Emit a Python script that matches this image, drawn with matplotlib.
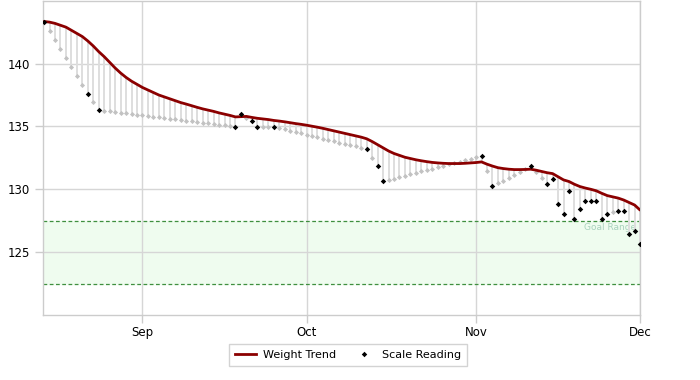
import matplotlib
matplotlib.use("Agg")
import matplotlib.pyplot as plt
import matplotlib.dates as mdates
from matplotlib.lines import Line2D
import numpy as np
import pandas as pd

# one value per day, Aug 14 -> Dec 1
start_date = "2023-08-14"

weight = [
    143.33, 142.62, 141.89, 141.18, 140.45, 139.74, 139.03, 138.32, 137.58, 136.93,
    136.30, 136.25, 136.20, 136.14, 136.09, 136.04, 135.98, 135.93, 135.88, 135.82,
    135.77, 135.72, 135.67, 135.61, 135.56, 135.50, 135.45, 135.40, 135.35, 135.30,
    135.24, 135.19, 135.14, 135.08, 135.03, 134.98, 136.00, 135.70, 135.41, 134.98,
    134.98, 134.98, 134.98, 134.88, 134.77, 134.67, 134.56, 134.46, 134.35, 134.25,
    134.14, 134.04, 133.93, 133.83, 133.72, 133.62, 133.51, 133.41, 133.30, 133.20,
    132.52, 131.82, 130.64, 130.75, 130.86, 130.98, 131.09, 131.20, 131.31, 131.42,
    131.53, 131.64, 131.76, 131.87, 131.98, 132.09, 132.20, 132.31, 132.42, 132.54,
    132.65, 131.44, 130.24, 130.47, 130.70, 130.92, 131.15, 131.37, 131.59, 131.82,
    131.36, 130.90, 130.45, 130.84, 128.86, 128.06, 129.84, 127.64, 128.45, 129.06,
    129.06, 129.06, 127.66, 128.06, 128.17, 128.27, 128.27, 126.48, 126.69, 125.67,
]

# 1 = real scale reading, 0 = filled-in day
measured = [
    1, 0, 0, 0, 0, 0, 0, 0, 1, 0,
    1, 0, 0, 0, 0, 0, 0, 0, 0, 0,
    0, 0, 0, 0, 0, 0, 0, 0, 0, 0,
    0, 0, 0, 0, 0, 1, 1, 0, 1, 1,
    0, 0, 1, 0, 0, 0, 0, 0, 0, 0,
    0, 0, 0, 0, 0, 0, 0, 0, 0, 1,
    0, 1, 1, 0, 0, 0, 0, 0, 0, 0,
    0, 0, 0, 0, 0, 0, 0, 0, 0, 0,
    1, 0, 1, 0, 0, 0, 0, 0, 0, 1,
    0, 0, 1, 1, 1, 1, 1, 1, 1, 1,
    1, 1, 1, 1, 0, 1, 1, 1, 1, 1,
]

trend = [
    143.35, 143.30, 143.20, 143.05, 142.90, 142.65, 142.40, 142.15, 141.80, 141.40,
    140.95, 140.55, 140.10, 139.65, 139.25, 138.90, 138.60, 138.35, 138.10, 137.90,
    137.70, 137.50, 137.35, 137.20, 137.05, 136.90, 136.78, 136.65, 136.52, 136.40,
    136.30, 136.20, 136.08, 135.98, 135.88, 135.76, 135.78, 135.80, 135.72, 135.65,
    135.60, 135.55, 135.48, 135.43, 135.37, 135.30, 135.23, 135.17, 135.10, 135.02,
    134.94, 134.85, 134.75, 134.65, 134.55, 134.45, 134.35, 134.25, 134.15, 134.02,
    133.80, 133.55, 133.30, 133.05, 132.85, 132.70, 132.55, 132.45, 132.35, 132.27,
    132.20, 132.14, 132.10, 132.07, 132.05, 132.05, 132.05, 132.07, 132.10, 132.13,
    132.18, 132.00, 131.85, 131.72, 131.65, 131.60, 131.57, 131.57, 131.58, 131.60,
    131.52, 131.42, 131.32, 131.25, 131.00, 130.75, 130.62, 130.40, 130.22, 130.10,
    130.00, 129.88, 129.68, 129.50, 129.40, 129.30, 129.15, 128.95, 128.75, 128.35,
]

goal_low = 122.5
goal_high = 127.5
y_ticks = [125, 130, 135, 140]


def main():
    dates = pd.date_range(start_date, periods=len(weight), freq="D")
    w = np.array(weight)
    t = np.array(trend)
    real = np.array(measured, dtype=bool)

    fig = plt.figure(figsize=(7, 3.8), dpi=100)
    ax = fig.add_axes([0.0614, 0.171, 0.853, 0.827])

    grid_col = "#d6d6d6"

    # goal band
    ax.axhspan(goal_low, goal_high, color="#effcef", zorder=0)
    for g in (goal_low, goal_high):
        ax.axhline(g, color="#3f8f3f", lw=0.9, ls=(0, (3, 2)), zorder=1)
    ax.text(dates[-1] - pd.Timedelta(days=0.7), goal_high - 0.5, "Goal Range",
            color="#a9d2bd", fontsize=6.5, ha="right", va="center", zorder=2)

    # stems from trend to each day's value
    ax.vlines(dates, t, w, color="#dedede", lw=1.4, zorder=2)
    ax.plot(dates[~real], w[~real], "D", color="#c2c2c2", ms=2.6, mew=0, zorder=3)
    ax.plot(dates, t, color="#8b0000", lw=2, zorder=4, solid_capstyle="round")
    ax.plot(dates[real], w[real], "D", color="black", ms=2.8, mew=0, zorder=5)

    ax.set_xlim(dates[0] - pd.Timedelta(days=0.2), dates[-1])
    ax.set_ylim(120, 145)
    ax.set_yticks(y_ticks)
    ax.xaxis.set_major_locator(mdates.MonthLocator())
    ax.xaxis.set_major_formatter(mdates.DateFormatter("%b"))

    ax.grid(True, color=grid_col, lw=1)
    ax.set_axisbelow(True)
    for side in ("left", "bottom", "top", "right"):
        ax.spines[side].set_color("#cccccc")
        ax.spines[side].set_linewidth(1)
    ax.tick_params(axis="both", colors="#cccccc", labelcolor="black",
                   labelsize=8.5, length=6, width=1)
    ax.tick_params(axis="x", pad=2)

    handles = [
        Line2D([], [], color="#8b0000", lw=2),
        Line2D([], [], ls="none", marker="D", color="black", ms=2.8, mew=0),
    ]
    leg = fig.legend(handles, ["Weight Trend", "Scale Reading"], loc="center",
                     bbox_to_anchor=(0.497, 0.066), ncol=2, fontsize=8,
                     frameon=True, fancybox=False, edgecolor="#c8c8c8",
                     handlelength=1.9, handletextpad=0.6, columnspacing=1.6,
                     borderpad=0.55)
    leg.get_frame().set_linewidth(1)

    fig.savefig("out.png", dpi=100)


if __name__ == "__main__":
    main()
